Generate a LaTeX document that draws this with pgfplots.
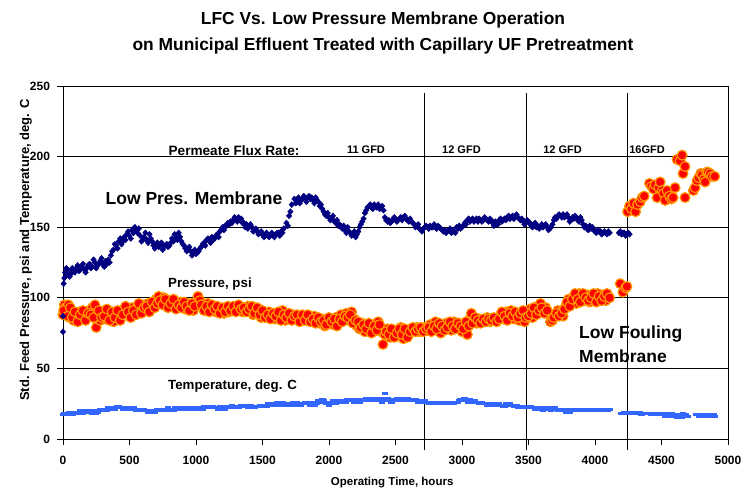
\documentclass[border=0pt]{standalone}
\usepackage{fontspec}
\setmainfont{Liberation Sans}
\usepackage{pgfplots}
\pgfplotsset{compat=1.18}
\definecolor{navyc}{RGB}{0,0,128}
\definecolor{redc}{RGB}{255,0,0}
\definecolor{orc}{RGB}{255,153,0}
\definecolor{tempc}{RGB}{51,102,255}
\begin{document}
\begin{tikzpicture}
\path[use as bounding box] (-63pt,-52pt) rectangle (679pt,439pt);
\begin{axis}[
  at={(0,0)}, anchor=south west,
  width=665pt, height=353pt, scale only axis,
  xmin=0, xmax=5000, ymin=0, ymax=250,
  xtick={0,500,...,5000}, ytick={0,50,...,250},
  xtick pos=lower, ytick pos=left,
  ymajorgrids, grid style={black, line width=0.8pt},
  axis line style={black, line width=0.8pt},
  tick align=outside, major tick length=6pt, tick style={black, line width=0.8pt},
  tick label style={font=\fontsize{12}{14}\selectfont\bfseries},
  yticklabel style={xshift=-3.5pt},
  xticklabel style={yshift=-8pt},
  /pgf/number format/assume math mode=true,
  /pgf/number format/1000 sep={},
  xlabel={Operating Time, hours},
  ylabel={Std. Feed Pressure, psi and Temperature, deg. C},
  every axis x label/.style={at={(axis description cs:0.495,-0.133)}, anchor=base, font=\fontsize{11.5}{13}\selectfont\bfseries},
  every axis y label/.style={at={(axis description cs:-0.0511,0.535)}, anchor=base, rotate=90, font=\fontsize{13}{15}\selectfont\bfseries},
  clip=false,
]
% Pressure (Low Fouling Membrane)
\addplot[only marks, mark=*, mark size=4.9pt, mark options={draw=orc, fill=redc, line width=1.2pt}] table {
x y
0 88
10 95
20 93
30 90
40 95
50 86
60 89
80 84
100 87
120 90
140 85
160 88
180 86
200 91
220 93
240 95
250 79
260 88
280 84
300 89
320 85
340 90
360 87
380 83
400 88
420 86
440 91
460 89
480 92
500 88
520 93
540 90
560 94
580 92
600 95
620 91
640 96
660 93
680 95
700 99
720 101
740 98
760 100
780 96
800 98
820 94
840 96
860 93
880 97
900 95
920 92
940 96
960 94
980 91
1000 97
1015 101
1030 98
1050 95
1070 93
1090 96
1110 92
1130 94
1150 90
1170 93
1190 91
1210 89
1230 92
1250 90
1270 92
1290 93
1310 91
1330 93
1350 90
1370 92
1390 94
1410 91
1430 88
1450 91
1470 89
1490 86
1510 89
1530 87
1550 90
1570 87
1590 85
1610 88
1630 86
1650 91
1670 84
1690 87
1710 85
1730 88
1750 86
1770 84
1790 86
1810 87
1830 85
1850 86
1870 84
1890 87
1910 84
1930 82
1950 85
1970 80
1990 83
2010 84
2030 81
2050 86
2070 83
2090 88
2110 86
2130 89
2150 84
2170 90
2190 85
2210 80
2230 78
2250 82
2270 76
2290 80
2310 77
2330 81
2350 79
2370 83
2390 76
2406 67
2420 74
2440 78
2460 72
2480 75
2500 77
2520 73
2540 79
2560 71
2580 76
2600 74
2620 78
2640 77
2660 79
2680 76
2700 77
2720 79
2740 77
2760 81
2780 78
2800 83
2820 80
2840 75
2860 79
2880 82
2900 80
2920 77
2940 83
2960 79
2980 82
3000 76
3020 81
3040 74
3060 85
3070 89
3090 84
3110 82
3130 85
3150 83
3170 84
3190 86
3210 83
3230 85
3250 84
3270 86
3290 88
3310 85
3330 90
3350 87
3370 91
3390 85
3410 88
3430 84
3450 87
3470 83
3490 89
3510 92
3530 86
3550 90
3570 94
3590 96
3610 91
3630 93
3650 89
3665 83
3680 84
3700 88
3720 91
3740 90
3760 87
3780 94
3800 99
3820 97
3840 101
3860 96
3880 103
3900 100
3920 98
3940 102
3960 97
3980 101
4000 99
4020 103
4040 100
4060 102
4080 98
4100 101
4190 110
4210 104
4230 107
4240 108
5 91
35 87
55 93
70 86
90 90
110 83
130 88
150 91
170 84
190 89
210 88
230 86
270 91
290 86
310 87
330 92
350 84
370 90
390 86
410 91
430 84
450 88
470 94
490 90
510 86
530 91
550 88
570 96
590 89
610 93
630 94
650 90
670 97
690 93
710 96
730 98
750 95
770 99
790 93
810 96
830 99
850 92
870 95
890 93
910 97
930 94
950 91
970 96
990 94
1040 95
1060 91
1080 94
1100 90
1120 95
1140 92
1160 94
1180 89
1200 93
1220 90
1240 94
1260 91
1280 94
1300 90
1320 95
1340 92
1360 93
1380 90
1400 92
1420 94
1440 89
1460 93
1480 88
1500 91
1520 86
1540 88
1560 85
1580 89
1600 87
1620 90
1640 84
1660 88
1680 86
1700 89
1720 84
1740 87
1760 88
1780 83
1800 88
1820 84
1840 88
1860 83
1880 85
1900 82
1920 86
1940 83
1960 84
1980 81
2000 86
2020 83
2040 85
2060 80
2080 85
2100 83
2120 87
2140 86
2160 88
2180 82
2200 84
2220 83
2240 79
2260 81
2280 78
2300 82
2320 75
2340 80
2360 77
2380 81
2430 76
2450 74
2470 78
2490 72
2510 75
2530 78
2550 74
2570 78
2590 72
2610 76
2630 79
2650 76
2670 78
2690 79
2710 76
2730 78
2750 79
2770 76
2790 80
2810 78
2830 82
2850 80
2870 77
2890 79
2910 83
2930 80
2950 78
2970 82
2990 80
3010 78
3030 83
3050 80
3080 82
3100 86
3120 84
3140 82
3160 85
3180 83
3200 85
3220 84
3240 86
3260 83
3280 85
3300 90
3320 87
3340 84
3360 89
3380 87
3400 90
3420 86
3440 89
3460 91
3480 86
3500 87
3520 89
3540 93
3560 88
3580 91
3600 93
3620 89
3640 91
3690 86
3710 89
3730 87
3750 89
3770 92
3790 97
3810 94
3830 99
3850 103
3870 99
3890 97
3910 103
3930 100
3950 98
3970 100
3990 103
4010 97
4030 101
4050 98
4070 101
4090 103
4110 100
4245 161
4260 165
4275 163
4290 167
4305 161
4320 166
4340 168
4355 171
4370 172
4410 181
4425 179
4440 177
4452 180
4467 171
4480 178
4490 182
4505 176
4515 174
4527 169
4542 176
4560 172
4575 170
4587 171
4602 178
4617 198
4640 197
4655 201
4662 188
4677 193
4677 171
4740 176
4752 178
4767 183
4780 185
4795 188
4805 187
4820 184
4828 182
4840 189
4850 189
4865 188
4880 186
4900 186
};
% Low Pres. Membrane
\addplot[only marks, mark=diamond*, mark size=3pt, mark options={draw=navyc, fill=navyc, line width=0.3pt, xscale=1.25}] table {
x y
0 76
0 87
5 110
15 118
30 116
45 119
60 117
80 120
100 121
120 119
140 122
160 120
180 121
200 124
220 122
240 125
260 123
280 126
300 124
320 126
340 127
360 130
380 134
400 137
420 140
440 138
460 143
480 145
500 144
520 148
540 150
560 146
580 144
600 141
620 146
640 139
660 142
680 137
700 138
720 136
740 139
760 137
780 138
800 137
820 142
840 145
860 141
880 143
900 138
920 135
940 134
960 133
980 132
1000 131
1020 133
1040 136
1060 139
1080 141
1100 140
1120 143
1140 142
1160 145
1180 147
1200 150
1220 151
1240 153
1260 154
1280 155
1300 156
1320 157
1340 156
1360 153
1380 152
1400 151
1420 150
1440 148
1460 147
1480 146
1500 145
1520 144
1540 144
1560 145
1580 144
1600 145
1620 146
1640 147
1660 149
1680 153
1700 158
1720 166
1740 170
1760 168
1780 167
1800 170
1820 171
1840 171
1860 170
1880 169
1900 171
1920 168
1940 166
1960 161
1980 158
2000 157
2020 156
2040 154
2060 155
2080 152
2100 149
2120 148
2140 150
2160 146
2180 145
2200 143
2220 147
2240 152
2260 156
2280 162
2300 165
2320 164
2340 166
2360 164
2380 163
2400 165
2420 157
2440 154
2460 153
2480 155
2500 156
2520 155
2540 157
2560 157
2580 156
2600 154
2620 154
2640 152
2660 151
2680 149
2700 147
2720 150
2740 150
2760 151
2780 150
2800 150
2820 151
2840 149
2860 147
2880 146
2900 148
2920 146
2940 147
2960 150
2980 151
3000 150
3020 153
3040 155
3060 154
3080 156
3100 155
3120 154
3140 155
3160 155
3180 156
3200 154
3220 155
3240 151
3260 152
3280 155
3300 154
3320 156
3340 157
3360 156
3380 158
3400 157
3420 157
3440 155
3460 154
3480 153
3500 154
3520 151
3540 152
3560 150
3580 149
3600 152
3620 151
3640 150
3660 149
3680 152
3700 157
3720 158
3740 158
3760 159
3780 158
3800 157
3820 155
3840 156
3860 157
3880 154
3900 155
3920 150
3940 149
3960 151
3980 150
4000 147
4020 148
4040 147
4060 146
4080 146
4100 147
4180 146
4200 145
4220 146
4240 145
4260 145
10 114
25 121
50 115
70 121
90 118
110 123
130 120
150 124
170 118
190 123
210 121
230 127
250 121
270 124
290 128
310 122
330 124
350 125
370 133
390 138
410 135
430 142
450 140
470 141
490 147
510 142
530 146
550 147
570 149
590 140
610 143
630 141
650 145
670 140
690 135
710 139
730 137
750 134
770 137
790 136
810 139
830 140
850 143
870 146
890 140
910 137
930 133
950 136
970 130
990 134
1010 132
1030 135
1050 138
1070 137
1090 142
1110 139
1130 141
1150 144
1170 143
1190 148
1210 148
1230 151
1250 152
1270 153
1290 157
1310 154
1330 155
1350 153
1370 150
1390 149
1410 152
1430 147
1450 149
1470 145
1490 147
1510 143
1530 146
1550 143
1570 146
1590 143
1610 146
1630 144
1650 146
1690 151
1710 161
1750 167
1770 171
1790 169
1810 172
1830 168
1850 172
1870 171
1890 167
1910 169
1930 165
1950 163
1970 159
1990 160
2010 155
2030 158
2050 153
2070 151
2090 150
2110 151
2130 146
2150 147
2170 144
2190 147
2210 145
2230 150
2250 154
2270 160
2290 164
2310 166
2330 163
2350 165
2370 166
2390 164
2410 162
2430 155
2450 155
2470 154
2490 157
2510 154
2530 156
2550 155
2570 158
2590 155
2610 156
2630 153
2650 150
2670 152
2690 148
2710 149
2730 151
2750 149
2770 150
2790 152
2810 149
2830 150
2850 148
2870 148
2890 147
2910 149
2930 148
2950 146
2970 149
2990 149
3010 151
3030 152
3050 156
3070 155
3090 154
3110 156
3130 156
3150 154
3170 157
3190 155
3210 156
3230 153
3250 154
3270 152
3290 156
3310 155
3330 155
3350 158
3370 157
3390 156
3410 159
3430 156
3450 156
3470 152
3490 155
3510 153
3530 150
3550 153
3570 151
3590 150
3610 150
3630 152
3650 148
3670 150
3690 155
3710 156
3730 159
3750 157
3770 157
3790 159
3810 154
3830 157
3850 158
3870 155
3890 157
3910 152
3930 151
3950 148
3970 149
3990 148
4010 146
4030 147
4050 145
4070 147
4090 145
4110 146
4190 147
4210 146
4230 144
4250 146
};
% Temperature
\addplot[only marks, mark=-, mark size=3.2pt, mark options={draw=tempc, line width=3pt}] table {
x y
0 17
20 18
40 17
60 18
80 18
100 19
120 18
140 19
160 19
180 20
200 19
220 18
240 20
260 19
280 21
300 20
320 21
340 22
360 21
380 22
400 22
420 23
440 22
460 22
480 21
500 22
520 21
540 21
560 20
580 21
600 20
620 20
640 19
660 20
680 19
700 20
720 21
740 21
760 20
780 21
800 20
820 21
840 22
860 21
880 21
900 22
920 22
940 21
960 22
980 21
1000 22
1020 21
1040 22
1060 23
1080 22
1100 22
1120 23
1140 22
1160 22
1180 23
1200 22
1220 21
1240 22
1260 23
1280 22
1300 23
1320 22
1340 24
1360 23
1380 24
1400 23
1420 23
1440 22
1460 23
1480 24
1500 23
1520 24
1540 25
1560 24
1580 25
1600 25
1620 24
1640 25
1660 25
1680 24
1700 25
1720 25
1740 24
1760 26
1780 25
1800 25
1820 26
1840 25
1860 24
1880 25
1900 26
1920 27
1940 26
1960 27
1980 25
2000 24
2020 26
2040 26
2060 27
2080 26
2100 26
2120 27
2140 28
2160 27
2180 27
2200 26
2220 27
2240 27
2260 28
2280 29
2300 28
2320 27
2340 28
2360 27
2380 28
2400 26
2420 32
2440 29
2460 27
2480 28
2500 27
2520 28
2540 28
2560 29
2580 28
2600 27
2620 27
2640 28
2660 27
2680 27
2700 26
2720 27
2740 26
2760 25
2780 26
2800 25
2820 25
2840 26
2860 26
2880 25
2900 26
2920 26
2940 25
2960 26
2980 27
3000 28
3020 29
3040 27
3060 28
3080 26
3100 27
3120 26
3140 26
3160 25
3180 25
3200 24
3220 25
3240 25
3260 24
3280 25
3300 24
3320 23
3340 24
3360 25
3380 24
3400 23
3420 22
3440 23
3460 23
3480 23
3500 22
3520 23
3540 22
3560 22
3580 21
3600 22
3620 21
3640 22
3660 21
3680 21
3700 22
3720 20
3740 21
3760 20
3780 19
3800 21
3820 20
3840 20
3860 21
3880 20
3900 21
3920 20
3960 21
3980 20
4000 20
4020 21
4040 20
4060 21
4080 20
4100 20
4200 18
4220 19
4240 18
4260 18
4280 19
4300 18
4320 18
4340 19
4360 18
4380 18
4420 17
4440 18
4460 17
4480 18
4500 17
4520 18
4540 16
4560 17
4580 18
4600 16
4620 15
4640 17
4660 18
4680 17
4700 16
4760 17
4780 16
4800 17
4820 17
4840 16
4860 17
4880 16
4900 16
10 18
30 17
50 19
70 17
90 19
110 18
130 20
150 18
170 20
190 19
210 20
230 19
250 18
270 20
290 20
310 21
330 20
350 21
370 22
390 21
410 23
430 22
450 21
470 22
490 22
510 21
530 22
550 20
570 20
590 21
610 21
630 20
650 19
670 20
690 19
710 21
730 20
750 21
770 20
790 22
810 21
830 20
850 21
870 22
890 21
910 21
930 22
950 21
970 22
990 21
1010 22
1030 22
1050 21
1070 22
1090 23
1110 22
1130 23
1150 22
1170 21
1190 22
1210 23
1230 22
1250 22
1270 24
1290 23
1310 22
1330 23
1350 24
1370 23
1390 22
1410 24
1430 22
1450 23
1470 23
1490 24
1510 24
1530 23
1550 24
1570 25
1590 24
1610 26
1630 24
1650 26
1670 25
1690 25
1710 24
1730 26
1750 25
1770 25
1790 24
1810 25
1830 25
1850 26
1870 25
1890 24
1910 25
1930 26
1950 28
1970 26
1990 25
2010 25
2030 27
2050 25
2070 26
2090 27
2110 27
2130 26
2150 27
2170 28
2190 26
2210 28
2230 26
2250 27
2270 27
2290 28
2310 29
2330 27
2350 29
2370 27
2390 29
2410 27
2430 28
2450 28
2470 26
2490 27
2510 29
2530 27
2550 28
2570 27
2590 29
2610 28
2630 27
2650 28
2670 26
2690 27
2710 27
2730 26
2750 25
2770 26
2790 26
2810 26
2830 25
2850 25
2870 26
2890 26
2910 25
2930 26
2950 26
2970 26
2990 28
3010 27
3030 28
3050 26
3070 27
3090 27
3110 26
3130 25
3150 26
3170 25
3190 24
3210 24
3230 24
3250 25
3270 25
3290 24
3310 23
3330 25
3350 24
3370 24
3390 23
3410 24
3430 23
3450 22
3470 22
3490 23
3510 22
3530 22
3550 21
3570 22
3590 21
3610 20
3630 21
3650 22
3670 20
3690 21
3710 21
3730 20
3750 20
3770 21
3790 20
3810 19
3830 21
3850 21
3870 20
3890 21
3910 21
3950 20
3970 21
3990 21
4010 20
4030 21
4050 20
4070 21
4090 21
4110 21
4210 18
4230 18
4250 19
4270 18
4290 18
4310 19
4330 18
4350 17
4370 18
4430 18
4450 17
4470 17
4490 18
4510 17
4530 16
4550 18
4570 16
4590 17
4610 17
4630 16
4650 15
4670 17
4690 16
4770 17
4790 17
4810 16
4830 17
4850 17
4870 16
4890 17
};
% vertical separators
\draw[black, line width=0.8pt] (axis cs:2714,-8) -- (axis cs:2714,245);
\draw[black, line width=0.8pt] (axis cs:3481,-8) -- (axis cs:3481,245);
\draw[black, line width=0.8pt] (axis cs:4241,-8) -- (axis cs:4241,245);
% annotations
\node[anchor=base, font=\fontsize{13.6}{15}\selectfont\bfseries] at (axis cs:1286,200.5) {Permeate Flux Rate:};
\node[anchor=base, font=\fontsize{11}{13}\selectfont\bfseries] at (axis cs:2278,202) {11 GFD};
\node[anchor=base, font=\fontsize{11}{13}\selectfont\bfseries] at (axis cs:2996,202) {12 GFD};
\node[anchor=base, font=\fontsize{11}{13}\selectfont\bfseries] at (axis cs:3756,202) {12 GFD};
\node[anchor=base, font=\fontsize{11}{13}\selectfont\bfseries] at (axis cs:4391,202) {16GFD};
\node[anchor=base, font=\fontsize{17.5}{20}\selectfont\bfseries] at (axis cs:985,166) {Low Pres. Membrane};
\node[anchor=base, font=\fontsize{13.3}{15}\selectfont\bfseries] at (axis cs:1105,107.6) {Pressure, psi};
\node[anchor=base, font=\fontsize{13.3}{15}\selectfont\bfseries] at (axis cs:1275,35.4) {Temperature, deg. C};
\node[anchor=base west, inner sep=0pt, font=\fontsize{17.5}{20}\selectfont\bfseries] at (axis cs:3880,71.5) {Low Fouling};
\node[anchor=base west, inner sep=0pt, font=\fontsize{17.5}{20}\selectfont\bfseries] at (axis cs:3880,54.5) {Membrane};
\end{axis}
\node[anchor=base, font=\fontsize{17.4}{20}\selectfont\bfseries] at (320pt,414.5pt) {LFC Vs. Low Pressure Membrane Operation};
\node[anchor=base, font=\fontsize{17.4}{20}\selectfont\bfseries] at (320pt,388.5pt) {on Municipal Effluent Treated with Capillary UF Pretreatment};
\end{tikzpicture}
\end{document}
